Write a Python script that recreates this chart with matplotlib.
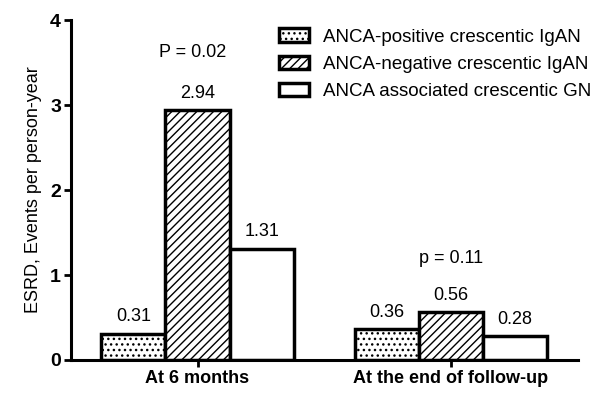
import numpy as np
import matplotlib.pyplot as plt
from matplotlib.patches import Patch

plt.rcParams['font.family'] = ['Liberation Sans', 'DejaVu Sans']
plt.rcParams['hatch.linewidth'] = 1.0

groups = ["At 6 months", "At the end of follow-up"]
series = ["ANCA-positive crescentic IgAN", "ANCA-negative crescentic IgAN", "ANCA associated crescentic GN"]
values = [[0.31, 0.36], [2.94, 0.56], [1.31, 0.28]]
pvals = ["P = 0.02", "p = 0.11"]
hatches = ["...", "////", ""]

fig = plt.figure(figsize=(6.05, 3.93), dpi=100)
ax = fig.add_axes([0.117, 0.084, 0.838, 0.865])

x = np.arange(len(groups))
w = 0.253
for i, (name, vals) in enumerate(zip(series, values)):
    pos = x + (i - 1) * w
    ax.bar(pos, vals, w, facecolor="white", edgecolor="black", linewidth=2.5,
           hatch=hatches[i], label=name)
    for p, v in zip(pos, vals):
        ax.text(p, v + 0.1, f"{v:.2f}", ha="center", va="bottom", fontsize=13)

ax.text(x[0] - 0.02, 3.52, pvals[0], ha="center", va="bottom", fontsize=13)
ax.text(x[1], 1.1, pvals[1], ha="center", va="bottom", fontsize=13)

ax.set_xlim(-0.5, 1.5)
ax.set_ylim(0, 4)
ax.set_yticks([0, 1, 2, 3, 4])
ax.set_xticks(x)
ax.set_xticklabels(groups, fontweight="bold", fontsize=13)
for lab in ax.get_yticklabels():
    lab.set_fontweight("bold")
    lab.set_fontsize(14)
ax.set_ylabel("ESRD, Events per person-year", fontsize=13, labelpad=6)
ax.spines["top"].set_visible(False)
ax.spines["right"].set_visible(False)
ax.spines["left"].set_linewidth(2.2)
ax.spines["bottom"].set_linewidth(2.2)
ax.tick_params(axis="both", width=2, length=5, pad=2)

handles = [Patch(facecolor="white", edgecolor="black", linewidth=2.5, hatch=h) for h in hatches]
ax.legend(handles, series, loc="upper right", bbox_to_anchor=(1.06, 1.025), frameon=False,
          fontsize=13.5, handlelength=1.6, handleheight=0.7, labelspacing=0.55, handletextpad=0.75)

fig.savefig("out.png", dpi=100)
